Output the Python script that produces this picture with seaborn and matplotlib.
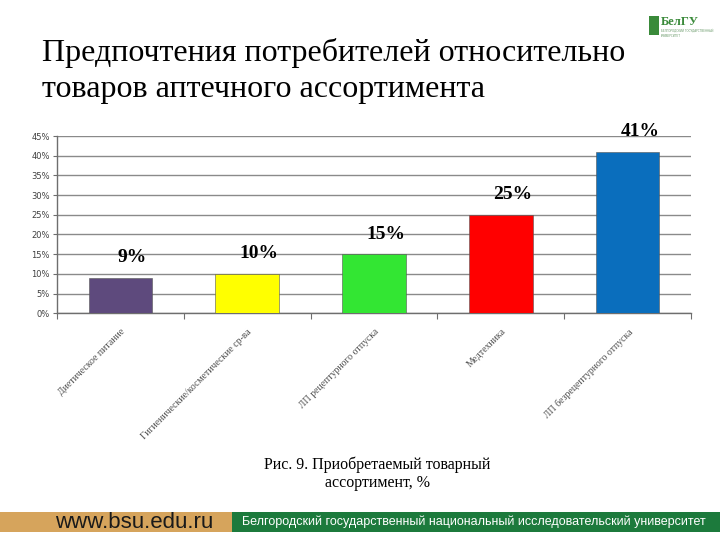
import numpy as np
import pandas as pd
import matplotlib
matplotlib.use('Agg')
import matplotlib.pyplot as plt
import matplotlib.ticker as mticker
from matplotlib.patches import Rectangle
import seaborn as sns

# ==============================================================================
# Данные (читаются с картинки)
# ==============================================================================
categories = [
    'Диетическое питание',
    'Гигиенические/косметические ср-ва',
    'ЛП рецептурного отпуска',
    'Медтехника',
    'ЛП безрецептурного отпуска',
]
shares = [0.09, 0.10, 0.15, 0.25, 0.41]
value_labels = ['9%', '10%', '15%', '25%', '41%']
bar_colors = ['#5E4A7D', '#FFFF00', '#33E633', '#FF0000', '#0A6EBD']
y_ticks = [0, 0.05, 0.10, 0.15, 0.20, 0.25, 0.30, 0.35, 0.40, 0.45]

title_text = 'Предпочтения потребителей относительно\nтоваров аптечного ассортимента'
caption_text = 'Рис. 9. Приобретаемый товарный\nассортимент, %'
site_text = 'www.bsu.edu.ru'
uni_text = 'Белгородский государственный национальный исследовательский университет'

df = pd.DataFrame({'Категория': categories, 'Доля': shares})

# ==============================================================================
# Рисунок
# ==============================================================================
sns.set_style('white')
plt.rcParams['font.family'] = ['Liberation Serif', 'DejaVu Serif']

fig = plt.figure(figsize=(7.2, 5.4), dpi=100)
ax = fig.add_axes([0.079, 0.420, 0.881, 0.328])

sns.barplot(data=df, x='Категория', y='Доля', hue='Категория',
            palette=bar_colors, saturation=1, width=0.5, legend=False, ax=ax,
            edgecolor='#555555', linewidth=0.4, zorder=3)

ax.set_xlim(-0.5, len(categories) - 0.5)
ax.set_ylim(0, 0.45)
ax.set_yticks(y_ticks)
ax.yaxis.set_major_formatter(mticker.PercentFormatter(1.0, decimals=0))
ax.yaxis.grid(True, color='#8a8a8a', linewidth=1.0, zorder=0)
ax.set_axisbelow(True)
ax.set_xlabel('')
ax.set_ylabel('')

for side in ['top', 'right']:
    ax.spines[side].set_visible(False)
for side in ['left', 'bottom']:
    ax.spines[side].set_color('#6e6e6e')
    ax.spines[side].set_linewidth(1.0)

# подписи оси Y
for lbl in ax.get_yticklabels():
    lbl.set_family(['DejaVu Sans'])
    lbl.set_fontsize(6)
    lbl.set_color('#404040')
ax.tick_params(axis='y', length=3, width=0.8, color='#6e6e6e', pad=2, left=True)

# подписи категорий, засечки между категориями
ax.set_xticks(range(len(categories)))
ax.set_xticklabels(categories, rotation=45, ha='right', va='top',
                   rotation_mode='anchor', fontsize=7, color='#505050')
ax.tick_params(axis='x', which='major', length=0, pad=10)
ax.set_xticks(np.arange(-0.5, len(categories), 1.0), minor=True)
ax.tick_params(axis='x', which='minor', length=4, width=0.8, color='#6e6e6e', bottom=True)

# значения над столбцами
for i, (v, t) in enumerate(zip(shares, value_labels)):
    ax.annotate(t, xy=(i, v), xytext=(12, 20), textcoords='offset pixels',
                ha='center', va='center', fontsize=14, fontweight='bold', color='black',
                annotation_clip=False)

# заголовок слайда
fig.text(0.058, 0.868, title_text, ha='left', va='center', fontsize=23,
         linespacing=1.3, color='black')

# подпись рисунка
fig.text(0.524, 0.122, caption_text, ha='center', va='center', fontsize=11.5,
         linespacing=1.15, color='black')

# логотип
fig.patches.append(Rectangle((0.901, 0.935), 0.014, 0.035, transform=fig.transFigure,
                             facecolor='#3a8a3a', edgecolor='none'))
fig.text(0.918, 0.960, 'БелГУ', ha='left', va='center', fontsize=9,
         fontweight='bold', color='#3a8a3a')
fig.text(0.918, 0.937, 'БЕЛГОРОДСКИЙ ГОСУДАРСТВЕННЫЙ\nУНИВЕРСИТЕТ', ha='left', va='center',
         fontsize=2, color='#6a9a6a', family=['DejaVu Sans'])

# нижняя плашка
fig.patches.append(Rectangle((0.0, 0.015), 0.322, 0.037, transform=fig.transFigure,
                             facecolor='#D6A45C', edgecolor='none'))
fig.patches.append(Rectangle((0.322, 0.015), 0.678, 0.037, transform=fig.transFigure,
                             facecolor='#1C7A3C', edgecolor='none'))
fig.text(0.187, 0.033, site_text, ha='center', va='center', fontsize=16,
         color='#1a1a1a', family=['Liberation Sans', 'DejaVu Sans'])
fig.text(0.658, 0.033, uni_text, ha='center', va='center', fontsize=9,
         color='white', family=['Liberation Sans Narrow', 'Liberation Sans', 'DejaVu Sans'])

fig.savefig('out.png', dpi=100, facecolor='white')
